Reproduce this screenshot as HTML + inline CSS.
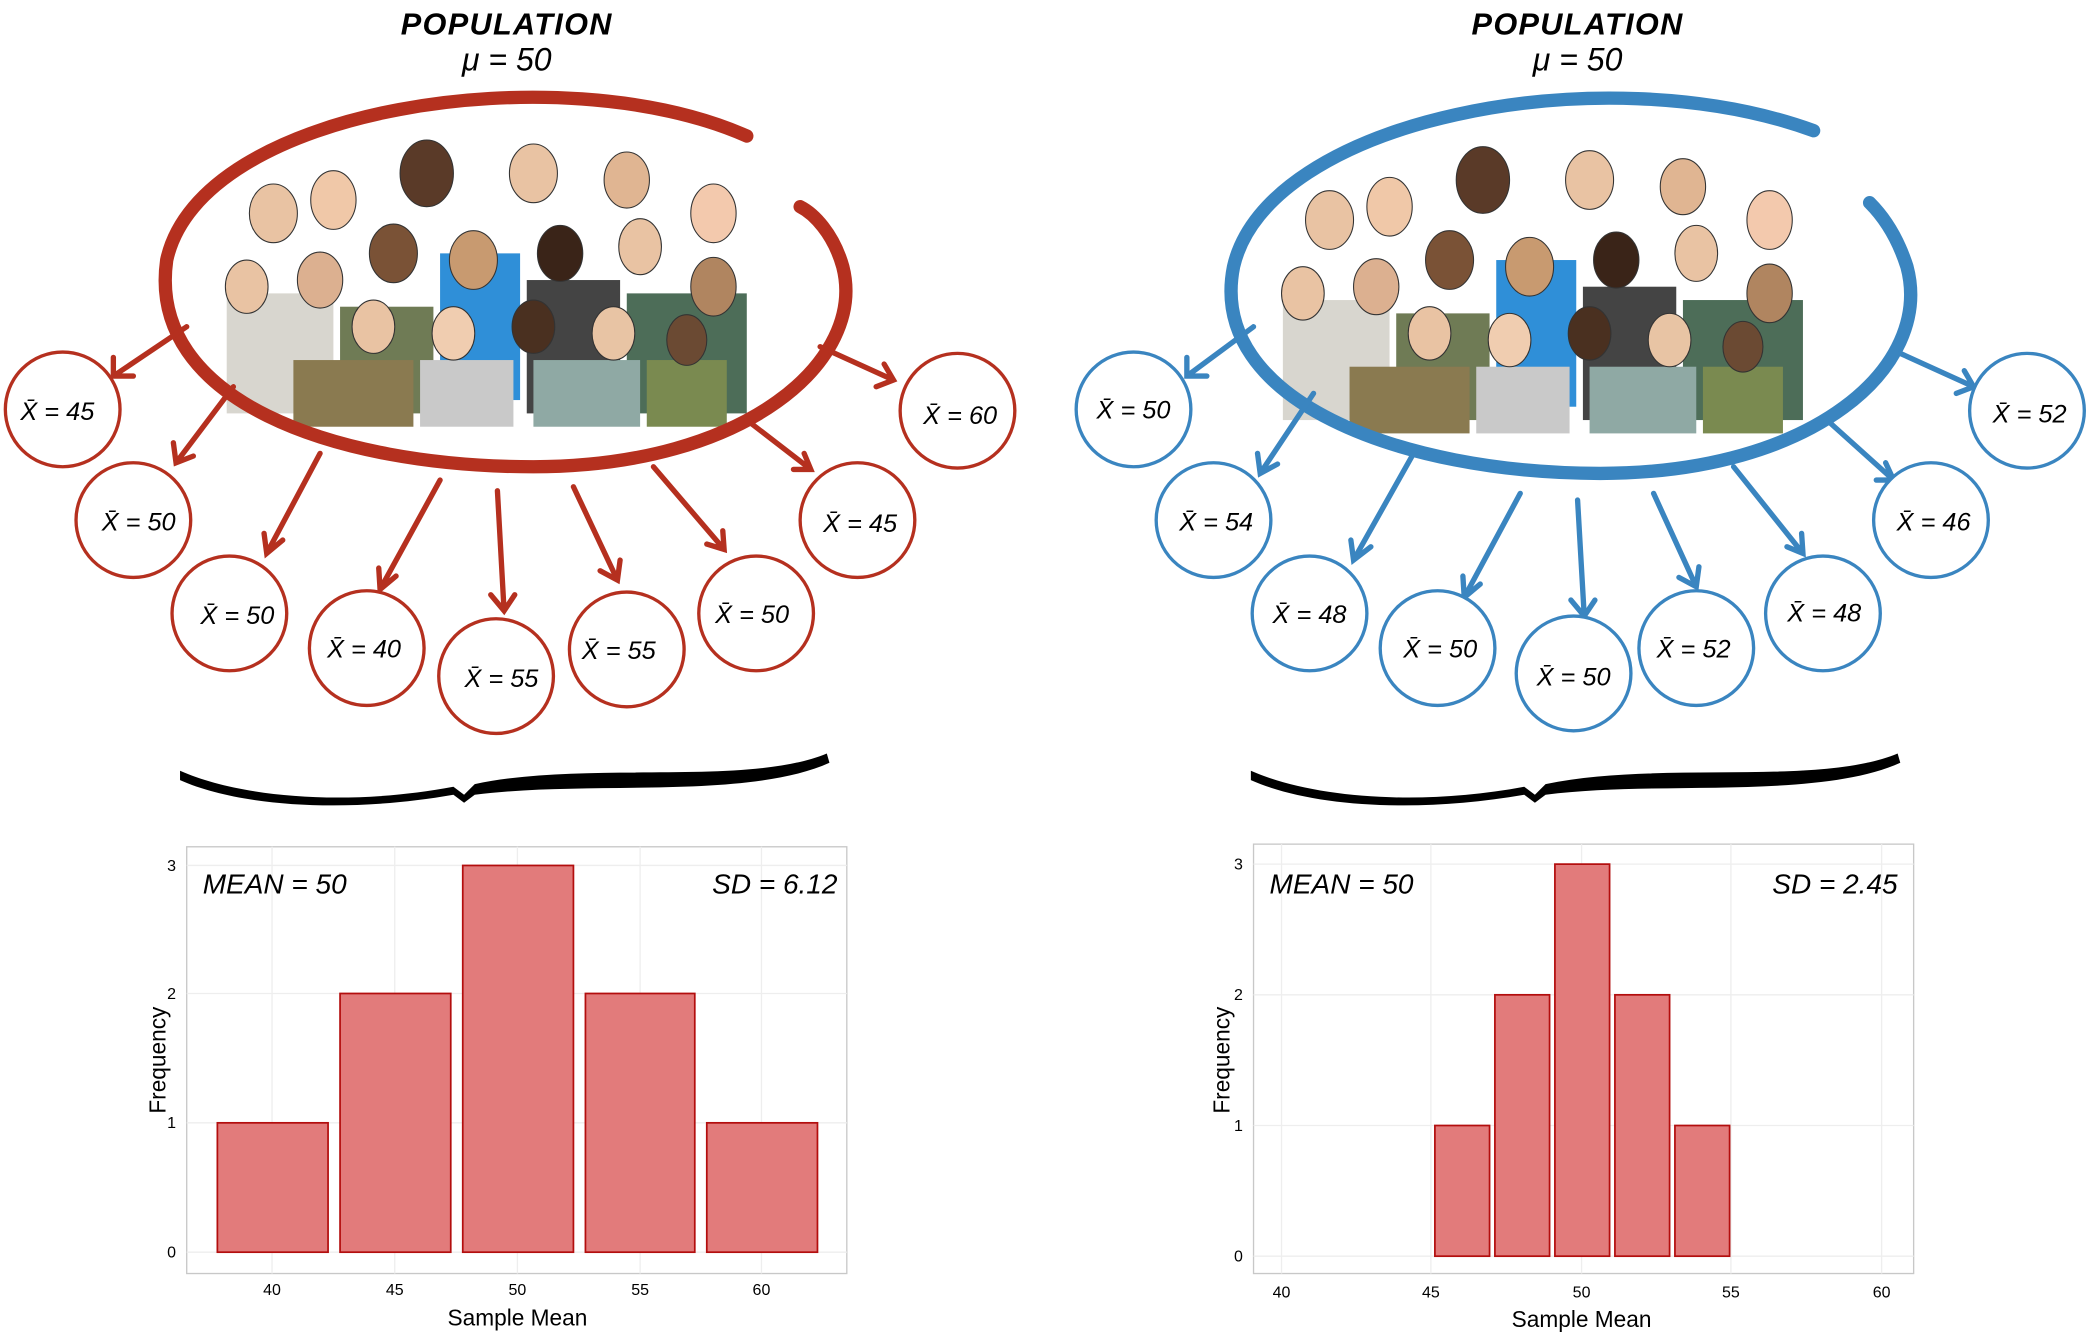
<!DOCTYPE html>
<html><head><meta charset="utf-8"><style>
html,body{margin:0;padding:0;background:#fff;}
svg{display:block}
.hand{font-family:"Liberation Sans",sans-serif;font-style:italic;}
</style></head><body>
<svg width="2091" height="1337" viewBox="0 0 1568 1002.6" xmlns="http://www.w3.org/2000/svg">
<defs>
<g id="crowd">
  <g>
    <rect x="-200" y="20" width="80" height="90" fill="#d8d6cf"/>
    <rect x="-115" y="30" width="70" height="80" fill="#6f7b55"/>
    <rect x="-40" y="-10" width="60" height="110" fill="#2f8fd8"/>
    <rect x="25" y="10" width="70" height="100" fill="#444"/>
    <rect x="100" y="20" width="90" height="90" fill="#4d6d58"/>
    <rect x="-150" y="70" width="90" height="50" fill="#8a7a50"/>
    <rect x="-55" y="70" width="70" height="50" fill="#c9c9c9"/>
    <rect x="30" y="70" width="80" height="50" fill="#8fa9a4"/>
    <rect x="115" y="70" width="60" height="50" fill="#7a8a50"/>
  </g>
  <g fill="#e9c3a3" stroke="#333" stroke-width="0.8">
    <ellipse cx="-165" cy="-40" rx="18" ry="22"/>
    <ellipse cx="-120" cy="-50" rx="17" ry="22" fill="#f0c8a8"/>
    <ellipse cx="-50" cy="-70" rx="20" ry="25" fill="#5a3a28"/>
    <ellipse cx="30" cy="-70" rx="18" ry="22"/>
    <ellipse cx="100" cy="-65" rx="17" ry="21" fill="#e0b592"/>
    <ellipse cx="165" cy="-40" rx="17" ry="22" fill="#f3c9ad"/>
    <ellipse cx="-185" cy="15" rx="16" ry="20"/>
    <ellipse cx="-130" cy="10" rx="17" ry="21" fill="#dcb090"/>
    <ellipse cx="-75" cy="-10" rx="18" ry="22" fill="#7a5236"/>
    <ellipse cx="-15" cy="-5" rx="18" ry="22" fill="#c89a70"/>
    <ellipse cx="50" cy="-10" rx="17" ry="21" fill="#3a2418"/>
    <ellipse cx="110" cy="-15" rx="16" ry="21"/>
    <ellipse cx="165" cy="15" rx="17" ry="22" fill="#b08560"/>
    <ellipse cx="-90" cy="45" rx="16" ry="20"/>
    <ellipse cx="-30" cy="50" rx="16" ry="20" fill="#f0cdb0"/>
    <ellipse cx="30" cy="45" rx="16" ry="20" fill="#4a3020"/>
    <ellipse cx="90" cy="50" rx="16" ry="20" fill="#e8c4a4"/>
    <ellipse cx="145" cy="55" rx="15" ry="19" fill="#6b4a33"/>
  </g>
</g>
<g id="bub">
  <circle r="43" fill="#fff" stroke-width="2.5"/>
</g>
</defs>

<!-- LEFT TOP -->
<text x="380" y="26" text-anchor="middle" class="hand" font-size="23" font-weight="bold" letter-spacing="1">POPULATION</text>
<text x="380" y="53" text-anchor="middle" class="hand" font-size="24">μ = 50</text>
<use href="#crowd" transform="translate(370,200)"/>
<path d="M560,102 C420,40 150,80 125,195 C110,300 250,350 400,350 C560,350 650,270 632,200 C625,175 610,160 600,155" fill="none" stroke="#b5301f" stroke-width="10" stroke-linecap="round"/>
<g stroke="#b5301f" stroke-width="4" fill="none" stroke-linecap="round">
<path d="M140,245 L85,282 M85,268 L85,282 L100,282"/>
<path d="M175,290 L132,347 M130,332 L132,347 L145,342"/>
<path d="M240,340 L200,415 M198,400 L200,415 L212,405"/>
<path d="M330,360 L285,442 M284,426 L285,442 L297,432"/>
<path d="M373,368 L378,458 M368,446 L378,458 L386,446"/>
<path d="M430,365 L463,435 M450,428 L463,435 L465,420"/>
<path d="M490,350 L543,412 M530,408 L543,412 L542,398"/>
<path d="M560,315 L608,352 M595,352 L608,352 L603,340"/>
<path d="M615,260 L670,285 M657,290 L670,285 L663,273"/>
</g>
<g stroke="#b5301f">
<use href="#bub" x="47" y="307"/><use href="#bub" x="100" y="390"/><use href="#bub" x="172" y="460"/>
<use href="#bub" x="275" y="486"/><use href="#bub" x="372" y="507"/><use href="#bub" x="470" y="487"/>
<use href="#bub" x="567" y="460"/><use href="#bub" x="643" y="390"/><use href="#bub" x="718" y="308"/>
</g>
<g class="hand" font-size="19" text-anchor="middle">
<text x="43" y="315">X̄ = 45</text><text x="104" y="398">X̄ = 50</text><text x="178" y="468">X̄ = 50</text>
<text x="273" y="493">X̄ = 40</text><text x="376" y="515">X̄ = 55</text><text x="464" y="494">X̄ = 55</text>
<text x="564" y="467">X̄ = 50</text><text x="645" y="399">X̄ = 45</text><text x="720" y="318">X̄ = 60</text>
</g>
<path d="M135,578 C180,598 260,605 340,590 L348,596 L356,588 C440,570 560,590 620,565 L622,572 C560,600 440,585 356,596 L348,602 L340,596 C260,610 180,605 135,585 Z" fill="#000"/>

<!-- RIGHT TOP -->
<text x="1183" y="26" text-anchor="middle" class="hand" font-size="23" font-weight="bold" letter-spacing="1">POPULATION</text>
<text x="1183" y="53" text-anchor="middle" class="hand" font-size="24">μ = 50</text>
<use href="#crowd" transform="translate(1162,205)"/>
<path d="M1360,98 C1200,40 950,90 925,200 C905,300 1050,355 1200,355 C1360,355 1450,275 1430,200 C1422,175 1410,160 1402,152" fill="none" stroke="#3a85c0" stroke-width="10" stroke-linecap="round"/>
<g stroke="#3a85c0" stroke-width="4" fill="none" stroke-linecap="round">
<path d="M940,245 L890,282 M890,268 L890,282 L905,282"/>
<path d="M985,295 L945,355 M943,340 L945,355 L958,348"/>
<path d="M1060,340 L1015,420 M1013,405 L1015,420 L1028,410"/>
<path d="M1140,370 L1098,448 M1097,432 L1098,448 L1110,438"/>
<path d="M1183,375 L1188,462 M1178,450 L1188,462 L1196,450"/>
<path d="M1240,370 L1272,440 M1259,433 L1272,440 L1274,425"/>
<path d="M1300,350 L1352,415 M1340,410 L1352,415 L1351,400"/>
<path d="M1370,315 L1420,360 M1407,360 L1420,360 L1414,347"/>
<path d="M1425,265 L1480,290 M1467,295 L1480,290 L1473,278"/>
</g>
<g stroke="#3a85c0">
<use href="#bub" x="850" y="307"/><use href="#bub" x="910" y="390"/><use href="#bub" x="982" y="460"/>
<use href="#bub" x="1078" y="486"/><use href="#bub" x="1180" y="505"/><use href="#bub" x="1272" y="486"/>
<use href="#bub" x="1367" y="460"/><use href="#bub" x="1448" y="390"/><use href="#bub" x="1520" y="308"/>
</g>
<g class="hand" font-size="19" text-anchor="middle">
<text x="850" y="314">X̄ = 50</text><text x="912" y="398">X̄ = 54</text><text x="982" y="467">X̄ = 48</text>
<text x="1080" y="493">X̄ = 50</text><text x="1180" y="514">X̄ = 50</text><text x="1270" y="493">X̄ = 52</text>
<text x="1368" y="466">X̄ = 48</text><text x="1450" y="398">X̄ = 46</text><text x="1522" y="317">X̄ = 52</text>
</g>
<path d="M938,578 C983,598 1063,605 1143,590 L1151,596 L1159,588 C1243,570 1363,590 1423,565 L1425,572 C1363,600 1243,585 1159,596 L1151,602 L1143,596 C1063,610 983,605 938,585 Z" fill="#000"/>

<!-- LEFT HIST -->
<rect x="140" y="635" width="495" height="320" fill="#fff" stroke="#c8c8c8" stroke-width="1"/>
<g stroke="#eeeeee" stroke-width="1">
<line x1="140" x2="635" y1="939" y2="939"/><line x1="140" x2="635" y1="842" y2="842"/><line x1="140" x2="635" y1="745" y2="745"/><line x1="140" x2="635" y1="649" y2="649"/>
<line x1="204" x2="204" y1="635" y2="955"/><line x1="296" x2="296" y1="635" y2="955"/><line x1="388" x2="388" y1="635" y2="955"/><line x1="480" x2="480" y1="635" y2="955"/><line x1="571" x2="571" y1="635" y2="955"/>
</g>
<g fill="#e27b7b" stroke="#b30e0e" stroke-width="1.3">
<rect x="163" y="842" width="83" height="97"/><rect x="255" y="745" width="83" height="194"/>
<rect x="347" y="649" width="83" height="290"/><rect x="439" y="745" width="82" height="194"/>
<rect x="530" y="842" width="83" height="97"/>
</g>
<g font-family="Liberation Sans,sans-serif" font-size="12" text-anchor="end">
<text x="132" y="943">0</text><text x="132" y="846">1</text><text x="132" y="749">2</text><text x="132" y="653">3</text>
</g>
<g font-family="Liberation Sans,sans-serif" font-size="12" text-anchor="middle">
<text x="204" y="971">40</text><text x="296" y="971">45</text><text x="388" y="971">50</text><text x="480" y="971">55</text><text x="571" y="971">60</text>
</g>
<text x="388" y="994" text-anchor="middle" font-family="Liberation Sans,sans-serif" font-size="17">Sample Mean</text>
<text transform="translate(124,795) rotate(-90)" text-anchor="middle" font-family="Liberation Sans,sans-serif" font-size="17">Frequency</text>
<text x="152" y="670" class="hand" font-size="21">MEAN = 50</text>
<text x="628" y="670" text-anchor="end" class="hand" font-size="21">SD = 6.12</text>

<!-- RIGHT HIST -->
<rect x="940" y="633" width="495" height="322" fill="#fff" stroke="#c8c8c8" stroke-width="1"/>
<g stroke="#eeeeee" stroke-width="1">
<line x1="940" x2="1435" y1="942" y2="942"/><line x1="940" x2="1435" y1="844" y2="844"/><line x1="940" x2="1435" y1="746" y2="746"/><line x1="940" x2="1435" y1="648" y2="648"/>
<line x1="961" x2="961" y1="633" y2="955"/><line x1="1073" x2="1073" y1="633" y2="955"/><line x1="1186" x2="1186" y1="633" y2="955"/><line x1="1298" x2="1298" y1="633" y2="955"/><line x1="1411" x2="1411" y1="633" y2="955"/>
</g>
<g fill="#e27b7b" stroke="#b30e0e" stroke-width="1.3">
<rect x="1076" y="844" width="41" height="98"/><rect x="1121" y="746" width="41" height="196"/>
<rect x="1166" y="648" width="41" height="294"/><rect x="1211" y="746" width="41" height="196"/>
<rect x="1256" y="844" width="41" height="98"/>
</g>
<g font-family="Liberation Sans,sans-serif" font-size="12" text-anchor="end">
<text x="932" y="946">0</text><text x="932" y="848">1</text><text x="932" y="750">2</text><text x="932" y="652">3</text>
</g>
<g font-family="Liberation Sans,sans-serif" font-size="12" text-anchor="middle">
<text x="961" y="973">40</text><text x="1073" y="973">45</text><text x="1186" y="973">50</text><text x="1298" y="973">55</text><text x="1411" y="973">60</text>
</g>
<text x="1186" y="995" text-anchor="middle" font-family="Liberation Sans,sans-serif" font-size="17">Sample Mean</text>
<text transform="translate(922,795) rotate(-90)" text-anchor="middle" font-family="Liberation Sans,sans-serif" font-size="17">Frequency</text>
<text x="952" y="670" class="hand" font-size="21">MEAN = 50</text>
<text x="1423" y="670" text-anchor="end" class="hand" font-size="21">SD = 2.45</text>
</svg>
</body></html>
